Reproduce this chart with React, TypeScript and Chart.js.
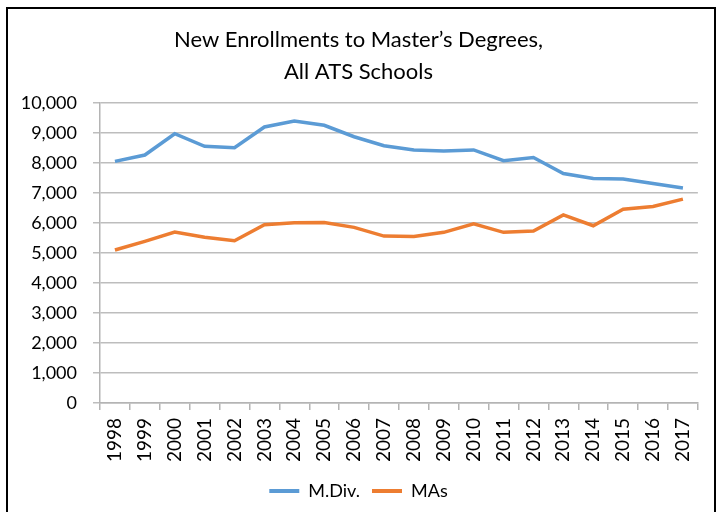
import { useEffect, useRef } from "react";
import { Chart, registerables } from "chart.js";

Chart.register(...registerables);

const years = [
  "1998", "1999", "2000", "2001", "2002", "2003", "2004", "2005", "2006", "2007",
  "2008", "2009", "2010", "2011", "2012", "2013", "2014", "2015", "2016", "2017",
];
const mdivValues = [
  8050, 8260, 8970, 8550, 8505, 9195, 9395, 9250, 8870, 8570,
  8430, 8395, 8430, 8070, 8180, 7645, 7480, 7465, 7310, 7165,
];
const masValues = [
  5095, 5385, 5695, 5520, 5405, 5940, 6005, 6010, 5850, 5560,
  5550, 5685, 5965, 5685, 5730, 6265, 5905, 6455, 6545, 6790,
];
const titleLines = ["New Enrollments to Master\u2019s Degrees,", "All ATS Schools"];
const seriesNames = ["M.Div.", "MAs"];
const yMin = 0;
const yMax = 10000;
const yStep = 1000;

const FONT = "Lato, 'Open Sans', sans-serif";

export default function App() {
  const ref = useRef<HTMLCanvasElement>(null);

  useEffect(() => {
    if (!ref.current) return;
    const chart = new Chart(ref.current, {
      type: "line",
      data: {
        labels: years,
        datasets: [
          {
            label: seriesNames[0],
            data: mdivValues,
            borderColor: "#5B9BD5",
            backgroundColor: "#5B9BD5",
            borderWidth: 3.5,
            pointRadius: 0,
            tension: 0,
          },
          {
            label: seriesNames[1],
            data: masValues,
            borderColor: "#ED7D31",
            backgroundColor: "#ED7D31",
            borderWidth: 3.5,
            pointRadius: 0,
            tension: 0,
          },
        ],
      },
      options: {
        responsive: false,
        animation: false,
        layout: { padding: { left: 6, right: 11, top: 0, bottom: 2 } },
        plugins: {
          title: {
            display: true,
            text: titleLines,
            color: "#000",
            font: { family: FONT, size: 22, weight: "normal", lineHeight: 1.45 },
            padding: { top: 15, bottom: 15 },
          },
          legend: {
            display: true,
            position: "bottom",
            labels: {
              color: "#000",
              font: { family: FONT, size: 18 },
              boxWidth: 30,
              boxHeight: 4,
              padding: 12,
              generateLabels: (c: any) => {
                const items = (Chart.defaults.plugins.legend.labels as any).generateLabels(c);
                return items.map((it: any) => ({ ...it, fillStyle: it.strokeStyle, lineWidth: 0 }));
              },
            },
          },
          tooltip: { enabled: false },
        },
        scales: {
          x: {
            type: "category",
            offset: true,
            grid: {
              display: true,
              offset: true,
              drawOnChartArea: false,
              drawTicks: true,
              tickLength: 7,
              color: "#b4b4b4",
              lineWidth: 1.5,
            },
            border: { display: true, color: "#b4b4b4", width: 1.5 },
            ticks: {
              color: "#000",
              font: { family: FONT, size: 19 },
              minRotation: 90,
              maxRotation: 90,
              autoSkip: false,
              padding: 8,
            },
            afterFit: (s: any) => {
              s.height = 67;
            },
          },
          y: {
            min: yMin,
            max: yMax,
            grid: {
              display: true,
              drawOnChartArea: true,
              drawTicks: true,
              tickLength: 7,
              color: "#bdbdbd",
              lineWidth: 1.5,
            },
            border: { display: true, color: "#b4b4b4", width: 1.5 },
            ticks: {
              stepSize: yStep,
              color: "#000",
              font: { family: FONT, size: 18 },
              padding: 16,
              callback: (v: any) => Number(v).toLocaleString("en-US"),
            },
            afterFit: (s: any) => {
              s.width = 86;
            },
          },
        },
      },
    });
    return () => chart.destroy();
  }, []);

  return (
    <div
      style={{
        position: "fixed",
        left: 6,
        top: 7,
        width: 706,
        height: 520,
        border: "2px solid #000",
        background: "#fff",
      }}
    >
      <canvas
        ref={ref}
        width={706}
        height={503}
        style={{ display: "block", width: 706, height: 503 }}
      />
    </div>
  );
}
